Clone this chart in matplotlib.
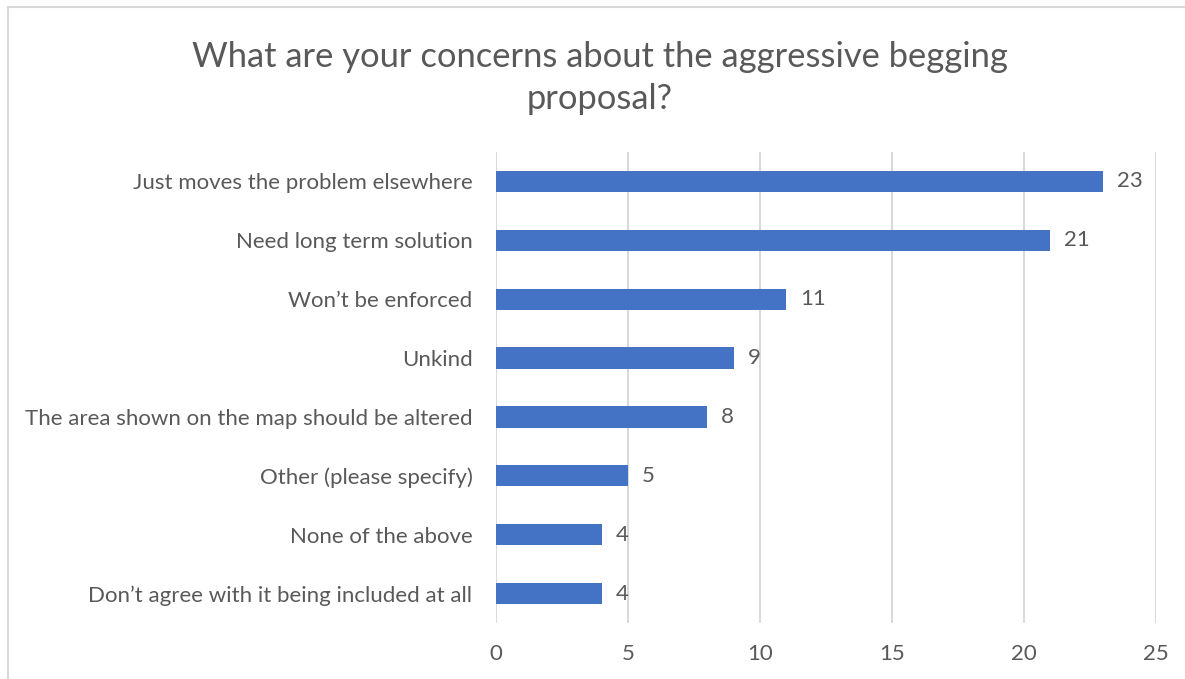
import numpy as np
import matplotlib.pyplot as plt
from matplotlib.patches import Rectangle

categories = [
    "Just moves the problem elsewhere",
    "Need long term solution",
    "Won\u2019t be enforced",
    "Unkind",
    "The area shown on the map should be altered",
    "Other (please specify)",
    "None of the above",
    "Don\u2019t agree with it being included at all",
]
counts = [23, 21, 11, 9, 8, 5, 4, 4]
xticks = [0, 5, 10, 15, 20, 25]

title = "What are your concerns about the aggressive begging\nproposal?"

plt.rcParams['font.family'] = ['Lato', 'DejaVu Sans']
grey = '#595959'
blue = '#4472C4'

fig = plt.figure(figsize=(11.85, 6.79), dpi=100)
ax = fig.add_axes([496/1185, 1 - 623/679, 660/1185, 471/679])

y = np.arange(len(categories))
bars = ax.barh(y, counts, height=0.36, color=blue, zorder=3)
for yi, v in zip(y, counts):
    ax.annotate(str(v), (v, yi), xytext=(10, 0), textcoords='offset points',
                va='center', ha='left', fontsize=16, color=grey)

ax.set_yticks(y)
ax.set_yticklabels(categories, fontsize=16, color=grey)
ax.set_ylim(len(categories) - 0.5, -0.5)
ax.set_xlim(0, 25)
ax.set_xticks(xticks)
ax.set_xticklabels([str(t) for t in xticks], fontsize=16, color=grey)
ax.tick_params(axis='y', length=0, pad=17)
ax.tick_params(axis='x', length=0, pad=15)
ax.grid(axis='x', color='#D9D9D9', linewidth=1.5, zorder=0)
for s in ax.spines.values():
    s.set_visible(False)

fig.text(600/1185, 1 - 78/679, title, ha='center', va='center',
         fontsize=24.8, color=grey, linespacing=1.4)

# chart border (cropped at right and bottom)
fig.patches.append(Rectangle((8/1185, -0.1), 1.2, 1 - 7/679 + 0.1,
                             transform=fig.transFigure, fill=False,
                             edgecolor='#D9D9D9', linewidth=1.5))

fig.savefig('out.png', dpi=100)
